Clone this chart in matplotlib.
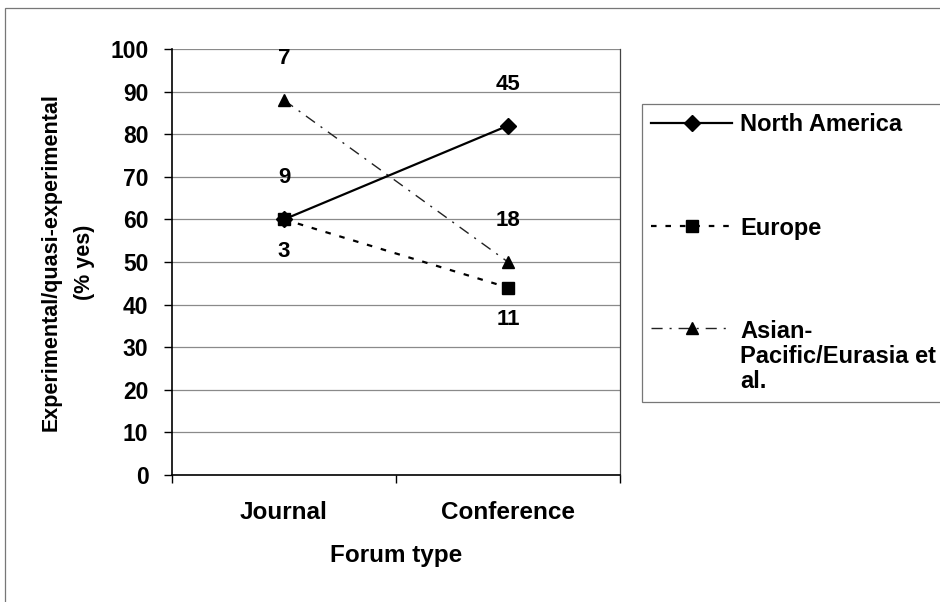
import matplotlib.pyplot as plt
import numpy as np
from matplotlib.legend_handler import HandlerLine2D
from matplotlib.patches import Rectangle

plt.rcParams["font.family"] = ["Liberation Sans", "DejaVu Sans"]
plt.rcParams["font.weight"] = "bold"

forum_types = ["Journal", "Conference"]
regions = ["North America", "Europe", "Asian-\nPacific/Eurasia et\nal."]

# % of studies that are experimental / quasi-experimental
north_america = [60, 82]
europe = [60, 44]
asia_pacific = [88, 50]

# number of studies per group, printed next to each point
n_north_america = [9, 45]
n_europe = [3, 11]
n_asia_pacific = [7, 18]


class LiftedLine(HandlerLine2D):
    """Legend handle shifted up so it sits level with the first label line."""

    def __init__(self, lift=0.0, **kw):
        super().__init__(**kw)
        self.lift = lift

    def create_artists(self, legend, orig_handle, xdescent, ydescent,
                       width, height, fontsize, trans):
        arts = super().create_artists(legend, orig_handle, xdescent, ydescent,
                                      width, height, fontsize, trans)
        for a in arts:
            a.set_ydata(np.asarray(a.get_ydata(), float) + self.lift * fontsize)
        return arts


fig = plt.figure(figsize=(9.4, 6.02), dpi=100)
ax = fig.add_axes([172 / 940, 1 - 475 / 602, 448 / 940, 426 / 602])

x = np.arange(len(forum_types)) + 0.5

na_line, = ax.plot(x, north_america, color="black", lw=1.6,
                   marker="D", markersize=8, label=regions[0], zorder=4)
eu_line, = ax.plot(x, europe, color="black", lw=1.6, dashes=(2.5, 4),
                   marker="s", markersize=8, label=regions[1], zorder=3)
ap_line, = ax.plot(x, asia_pacific, color="#222222", lw=1.0, dashes=(8, 5, 1.5, 5),
                   marker="^", markersize=8, markerfacecolor="black",
                   markeredgecolor="black", label=regions[2], zorder=3)

# sample sizes: above for NA and Asia-Pacific, below for Europe
label_kw = dict(textcoords="offset points", ha="center", va="center",
                fontsize=16, fontweight="bold")
for xi, v, n in zip(x, north_america, n_north_america):
    ax.annotate(str(n), (xi, v), xytext=(0, 30), **label_kw)
for xi, v, n in zip(x, asia_pacific, n_asia_pacific):
    ax.annotate(str(n), (xi, v), xytext=(0, 30), **label_kw)
for xi, v, n in zip(x, europe, n_europe):
    ax.annotate(str(n), (xi, v), xytext=(0, -23), **label_kw)

ax.set_xlim(0, 2)
ax.set_ylim(0, 100)
ax.set_yticks(np.arange(0, 101, 10))
ax.set_xticks([0, 1, 2])
ax.set_xticklabels([])
ax.set_xticks(x, minor=True)
ax.set_xticklabels(forum_types, minor=True, fontsize=17.5, fontweight="bold")
ax.tick_params(axis="x", which="minor", length=0, pad=19)
ax.tick_params(axis="x", which="major", length=6, width=1, direction="out")
ax.tick_params(axis="y", length=6, width=1, pad=11, labelsize=16.5)
for lbl in ax.get_yticklabels():
    lbl.set_fontweight("bold")

ax.grid(axis="y", color="#8a8a8a", lw=0.9)
ax.set_axisbelow(True)
for side in ["left", "bottom"]:
    ax.spines[side].set_linewidth(1.2)
ax.spines["top"].set_visible(False)
ax.spines["right"].set_color("#444444")
ax.spines["right"].set_linewidth(0.9)

ax.set_xlabel("Forum type", fontsize=17.5, fontweight="bold", va="center")
ax.xaxis.set_label_coords(0.5, -0.19)
ax.set_ylabel("Experimental/quasi-experimental\n(% yes)", fontsize=15.5,
              fontweight="bold", linespacing=1.8, va="center")
ax.yaxis.set_label_coords(-0.232, 0.5)

leg = fig.legend(handles=[na_line, eu_line, ap_line], loc="upper left",
                 bbox_to_anchor=(642 / 940, 1 - 104 / 602),
                 prop={"family": "Liberation Sans", "weight": "bold", "size": 17},
                 frameon=True, fancybox=False, edgecolor="#555555",
                 handlelength=3.4, handletextpad=0.35, labelspacing=3.4,
                 borderpad=0.4, borderaxespad=0, numpoints=1,
                 handler_map={ap_line: LiftedLine(lift=1.25, numpoints=1)})
leg.get_frame().set_linewidth(0.9)
leg.get_texts()[2].set_linespacing(1.1)

# thin outline around the whole chart area
fig.patches.append(Rectangle((5 / 940, -0.01), 1.0, 1 - 8 / 602 + 0.01,
                             transform=fig.transFigure, fill=False,
                             edgecolor="#777777", lw=0.9))

fig.savefig("out.png", dpi=100)
